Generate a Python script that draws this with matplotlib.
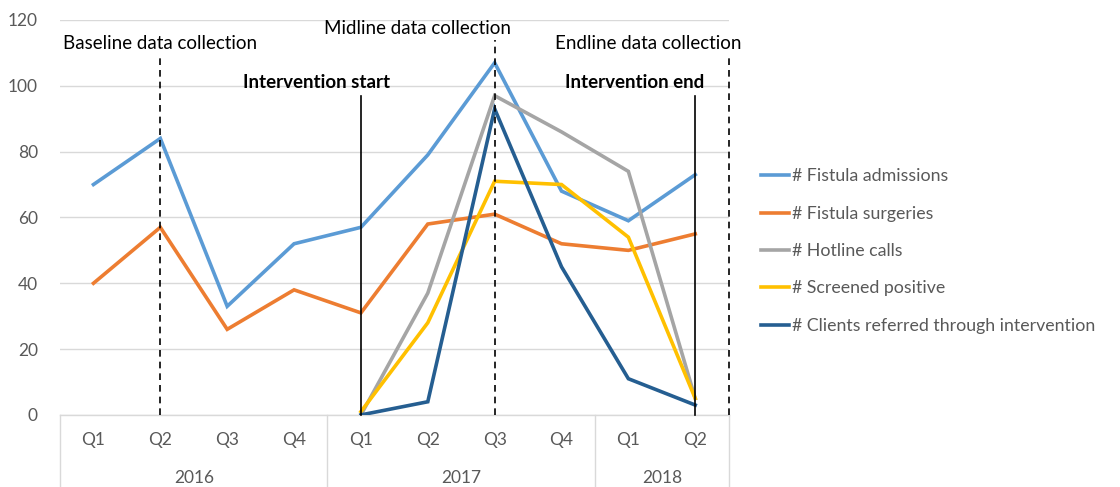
import matplotlib.pyplot as plt

plt.rcParams['font.family'] = ['Lato', 'DejaVu Sans']

quarters = ['Q1', 'Q2', 'Q3', 'Q4', 'Q1', 'Q2', 'Q3', 'Q4', 'Q1', 'Q2']
years = ['2016', '2017', '2018']
year_bounds = [-0.5, 3.5, 7.5, 9.5]

admissions = [70, 84, 33, 52, 57, 79, 107, 68, 59, 73]
surgeries = [40, 57, 26, 38, 31, 58, 61, 52, 50, 55]
# intervention series start in Q1 2017 (index 4)
hotline = [0, 37, 97, 86, 74, 5]
screened = [1, 28, 71, 70, 54, 5]
referred = [0, 4, 93, 45, 11, 3]

series = [
    ('# Fistula admissions', list(range(10)), admissions, '#5B9BD5'),
    ('# Fistula surgeries', list(range(10)), surgeries, '#ED7D31'),
    ('# Hotline calls', list(range(4, 10)), hotline, '#A5A5A5'),
    ('# Screened positive', list(range(4, 10)), screened, '#FFC000'),
    ('# Clients referred through intervention', list(range(4, 10)), referred, '#255E91'),
]

# event markers: label, line x, line top, dashed?, text x, text y, bold?
events = [
    ('Baseline data collection', 1, 109, True, 1.0, 113, False),
    ('Intervention start', 4, 97, False, 3.33, 101, True),
    ('Midline data collection', 6, 114, True, 4.85, 117.5, False),
    ('Intervention end', 9, 97, False, 8.1, 101, True),
    ('Endline data collection', 9.5, 108.5, True, 8.3, 113, False),
]

fig = plt.figure(figsize=(11.2, 4.87), dpi=100)
ax = fig.add_axes([0.0536, 0.148, 0.597, 0.811])

grey_txt = '#595959'
for lab, xs, ys, c in series:
    ax.plot(xs, ys, color=c, lw=2.6, label=lab, solid_joinstyle='miter', zorder=3)

for lab, lx, top, dashed, tx, ty, bold in events:
    ax.plot([lx, lx], [0, top], color='black', lw=1.2,
            ls=(0, (4, 3)) if dashed else '-', zorder=4, clip_on=False)
    ax.text(tx, ty, lab, ha='center', va='center', fontsize=13.5,
            fontweight='bold' if bold else 'normal', color='black')

ax.set_xlim(-0.5, 9.5)
ax.set_ylim(0, 120)
ax.set_yticks(range(0, 121, 20))
ax.yaxis.grid(True, color='#D9D9D9', lw=1)
ax.set_axisbelow(True)
for s in ax.spines.values():
    s.set_visible(False)
ax.tick_params(axis='y', length=0, colors=grey_txt, labelsize=12.5, pad=16)
ax.set_xticks([])

# multi-level category axis
trans = ax.get_xaxis_transform()
ax.plot([-0.5, 9.5], [0, 0], color='#D9D9D9', lw=1, transform=trans, clip_on=False)
for b in year_bounds:
    ax.plot([b, b], [0, -0.185], color='#D9D9D9', lw=1, transform=trans, clip_on=False)
for i, q in enumerate(quarters):
    ax.text(i, -0.063, q, ha='center', va='center', fontsize=12.5, color=grey_txt, transform=trans)
for j, y in enumerate(years):
    ax.text((year_bounds[j] + year_bounds[j + 1]) / 2, -0.16, y, ha='center', va='center',
            fontsize=12.5, color=grey_txt, transform=trans)

fig.legend(loc='upper left', bbox_to_anchor=(0.665, 0.687), frameon=False,
           fontsize=12.8, labelcolor=grey_txt, handlelength=1.6, handletextpad=0.15,
           labelspacing=1.2)

fig.savefig('out.png', dpi=100)
